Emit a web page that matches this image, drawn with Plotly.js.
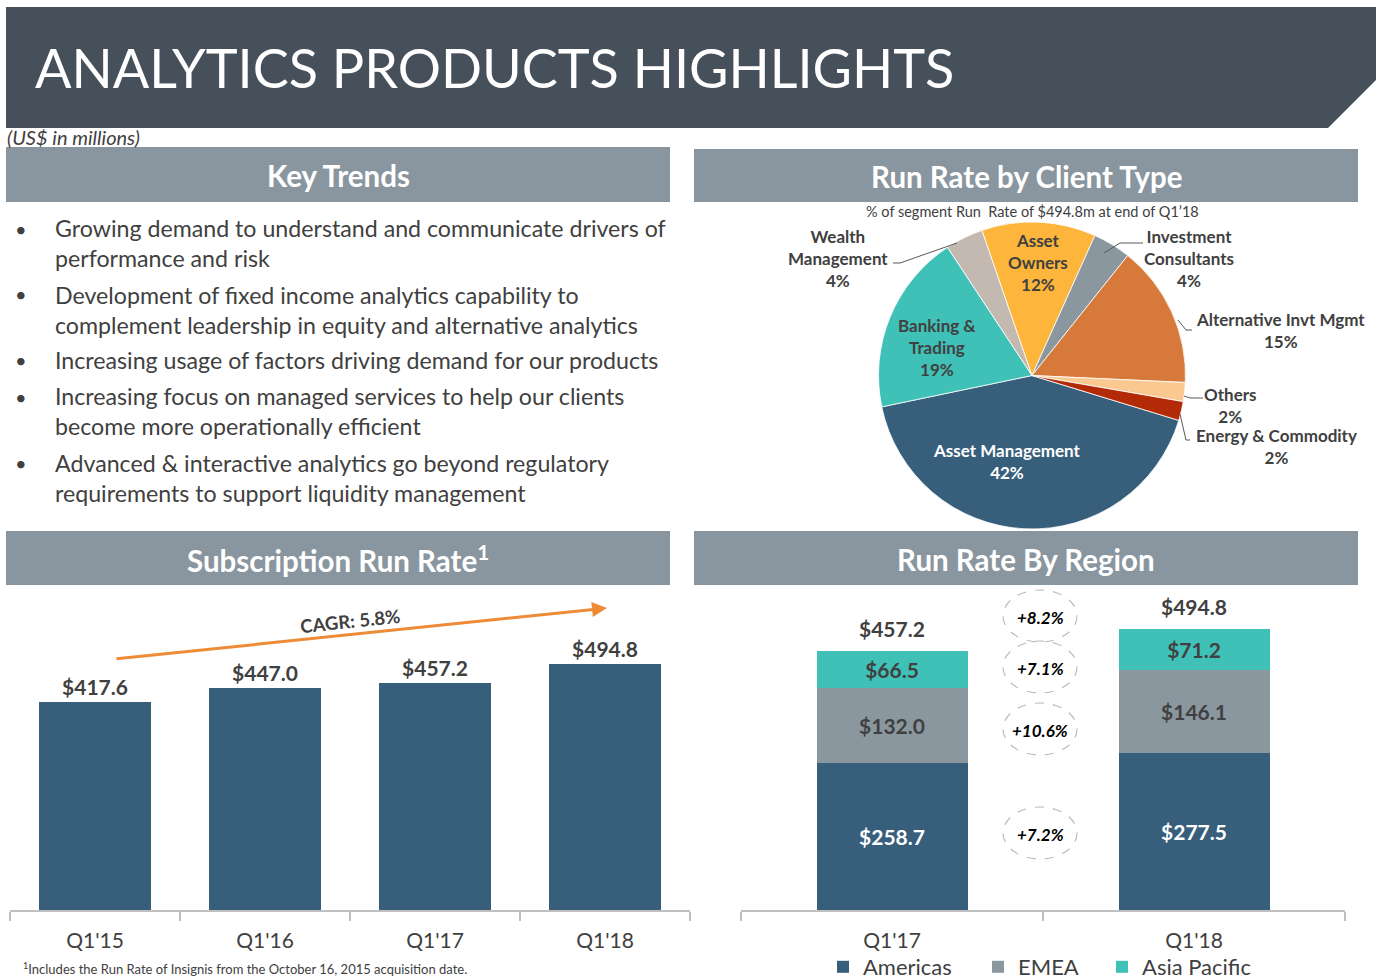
<!DOCTYPE html>
<html><head><meta charset="utf-8">
<script src="https://cdn.plot.ly/plotly-3.0.1.min.js"></script>
<style>html,body{margin:0;padding:0;background:#fff;overflow:hidden}#chart{width:1379px;height:976px}</style>
</head><body><div id="chart"></div>
<script>
// ---------- data ----------
const trendPeriods = ["Q1'15", "Q1'16", "Q1'17", "Q1'18"];
const runRate = [417.6, 447.0, 457.2, 494.8];
const cagrLabel = "CAGR: 5.8%";

const clientTypes = ["Asset Management", "Banking & Trading", "Wealth Management", "Asset Owners",
  "Investment Consultants", "Alternative Invt Mgmt", "Others", "Energy & Commodity"];
const clientLabels = ["Asset Management", "Banking &<br>Trading", "Wealth<br>Management", "Asset<br>Owners",
  "Investment<br>Consultants", "Alternative Invt Mgmt", "Others", "Energy & Commodity"];
const clientShare = [42, 19, 4, 12, 4, 15, 2, 2];
const clientColors = ["#375e7b", "#40c1b8", "#c3b9b1", "#fdb53c", "#8b979f", "#d6793a", "#fac890", "#b22b06"];

const regionPeriods = ["Q1'17", "Q1'18"];
const americas = [258.7, 277.5];
const emea = [132.0, 146.1];
const asiaPacific = [66.5, 71.2];
const growthLabels = ["+8.2%", "+7.1%", "+10.6%", "+7.2%"]; // total, Asia Pacific, EMEA, Americas

const bullets = [
  "Growing demand to understand and communicate drivers of<br>performance and risk",
  "Development of fixed income analytics capability to<br>complement leadership in equity and alternative analytics",
  "Increasing usage of factors driving demand for our products",
  "Increasing focus on managed services to help our clients<br>become more operationally efficient",
  "Advanced & interactive analytics go beyond regulatory<br>requirements to support liquidity management"
];

// ---------- helpers ----------
const W = 1379, H = 976;
const px = x => x / W, py = y => 1 - y / H;
const FONT = 'Lato, "Open Sans", sans-serif';
const DARK = '#404040';
const BLUE = '#375e7b', GRAY = '#8b979f', TEAL = '#40c1b8';
const P = o => Object.assign({xref: 'paper', yref: 'paper', showarrow: false}, o);

// ---------- traces ----------
const traces = [
  {
    type: 'bar', x: trendPeriods, y: runRate, xaxis: 'x', yaxis: 'y',
    width: 0.66, marker: {color: BLUE}, showlegend: false,
    texttemplate: '$%{y:.1f}', textposition: 'outside', cliponaxis: false,
    textfont: {size: 21, color: DARK, family: FONT, weight: 700}, hoverinfo: 'skip'
  },
  {
    type: 'pie', labels: clientTypes, values: clientShare, sort: false,
    direction: 'clockwise', rotation: 107, textinfo: 'none', hoverinfo: 'skip',
    marker: {colors: clientColors, line: {color: '#ffffff', width: 0.8}},
    domain: {x: [px(878), px(1186)], y: [py(529), py(222)]}, showlegend: false
  },
  {
    type: 'bar', name: 'Americas', x: regionPeriods, y: americas, xaxis: 'x2', yaxis: 'y2', legend: 'legend',
    width: 0.5, marker: {color: BLUE}, texttemplate: '$%{y:.1f}', textposition: 'inside',
    insidetextanchor: 'middle', textangle: 0,
    textfont: {size: 21, color: '#ffffff', family: FONT, weight: 700}, hoverinfo: 'skip'
  },
  {
    type: 'bar', name: 'EMEA', x: regionPeriods, y: emea, xaxis: 'x2', yaxis: 'y2', legend: 'legend2',
    width: 0.5, marker: {color: GRAY}, texttemplate: '$%{y:.1f}', textposition: 'inside',
    insidetextanchor: 'middle', textangle: 0,
    textfont: {size: 21, color: DARK, family: FONT, weight: 700}, hoverinfo: 'skip'
  },
  {
    type: 'bar', name: 'Asia Pacific', x: regionPeriods, y: asiaPacific, xaxis: 'x2', yaxis: 'y2', legend: 'legend3',
    width: 0.5, marker: {color: TEAL}, texttemplate: '$%{y:.1f}', textposition: 'inside',
    insidetextanchor: 'middle', textangle: 0,
    textfont: {size: 21, color: DARK, family: FONT, weight: 700}, hoverinfo: 'skip'
  }
];

// ---------- shapes ----------
const shapes = [];
shapes.push({type: 'path', xref: 'paper', yref: 'paper', fillcolor: '#46505a', line: {width: 0},
  path: `M${px(6)},${py(7)} L${px(1376)},${py(7)} L${px(1376)},${py(80)} L${px(1328)},${py(128)} L${px(6)},${py(128)} Z`});
const sections = [
  {x0: 6, x1: 670, y0: 147, y1: 202, text: 'Key Trends'},
  {x0: 694, x1: 1358, y0: 149, y1: 202, text: 'Run Rate by Client Type'},
  {x0: 6, x1: 670, y0: 531, y1: 585, text: 'Subscription Run Rate<sup>1</sup>'},
  {x0: 694, x1: 1358, y0: 531, y1: 585, text: 'Run Rate By Region'}
];
sections.forEach(s => shapes.push({type: 'rect', xref: 'paper', yref: 'paper',
  x0: px(s.x0), x1: px(s.x1), y0: py(s.y1), y1: py(s.y0), fillcolor: '#8a969f', line: {width: 0}}));

const circleCenters = [616, 667, 729, 833];
circleCenters.forEach(c => shapes.push({type: 'circle', xref: 'paper', yref: 'paper',
  x0: px(1003), x1: px(1077), y0: py(c + 26), y1: py(c - 26),
  line: {color: '#b7bbbf', width: 1.1, dash: 'dash'}, fillcolor: 'rgba(0,0,0,0)'}));

const leaders = [
  [[893, 263], [900, 263], [957, 243]],
  [[1143, 243], [1120, 243], [1104, 253]],
  [[1192, 330], [1186, 330], [1178, 320]],
  [[1203, 398], [1190, 398], [1184, 396]],
  [[1190, 440], [1186, 440], [1180, 414]]
];
leaders.forEach(pts => shapes.push({type: 'path', xref: 'paper', yref: 'paper',
  path: 'M' + pts.map(p => `${px(p[0])},${py(p[1])}`).join(' L'), line: {color: '#595959', width: 1}}));

// ---------- annotations ----------
const ann = [];
ann.push(P({text: 'ANALYTICS PRODUCTS HIGHLIGHTS', x: px(33), y: py(67), xanchor: 'left', yanchor: 'middle',
  font: {size: 54, color: '#ffffff', family: FONT, weight: 400}}));
ann.push(P({text: '<i>(US$ in millions)</i>', x: px(5), y: py(137), xanchor: 'left', yanchor: 'middle',
  font: {size: 20, color: DARK, family: FONT}}));
sections.forEach(s => ann.push(P({text: s.text, x: px((s.x0 + s.x1) / 2), y: py((s.y0 + s.y1) / 2 + 1),
  xanchor: 'center', yanchor: 'middle', font: {size: 29.5, color: '#ffffff', family: FONT, weight: 700}})));

const bulletCenters = [243, 309.5, 360, 411.5, 478];
const bulletFirst = [229, 294, 360, 397, 463];
bullets.forEach((b, i) => {
  ann.push(P({text: '•', x: px(21), y: py(bulletFirst[i]), xanchor: 'center', yanchor: 'middle',
    font: {size: 20, color: DARK, family: FONT}}));
  ann.push(P({text: b, x: px(53), y: py(bulletCenters[i]), xanchor: 'left', yanchor: 'middle', align: 'left',
    font: {size: 23.2, color: DARK, family: FONT}}));
});

ann.push(P({text: '% of segment Run  Rate of $494.8m at end of Q1\u201918', x: px(1032), y: py(212),
  xanchor: 'center', yanchor: 'middle', font: {size: 14.5, color: DARK, family: FONT}}));
const pieLabelPos = [[1007, 461], [937, 347], [838, 258], [1038, 262], [1189, 258], [1280, 330], [1230, 406], [1276, 447]];
clientLabels.forEach((l, i) => ann.push(P({text: l + '<br>' + clientShare[i] + '%',
  x: px(pieLabelPos[i][0]), y: py(pieLabelPos[i][1]), xanchor: 'center', yanchor: 'middle',
  font: {size: 17, color: i === 0 ? '#ffffff' : DARK, family: FONT, weight: 700}})));

ann.push({text: '', x: px(607), y: py(608), ax: -492, ay: 51, xref: 'paper', yref: 'paper',
  showarrow: true, arrowhead: 2, arrowsize: 1, arrowwidth: 3, arrowcolor: '#ed8b37', standoff: 0});
ann.push(P({text: cagrLabel, x: px(350), y: py(621), xanchor: 'center', yanchor: 'middle', textangle: -6,
  font: {size: 18.5, color: DARK, family: FONT, weight: 700}}));

regionPeriods.forEach((p, i) => ann.push({text: '$' + (americas[i] + emea[i] + asiaPacific[i]).toFixed(1),
  x: p, y: americas[i] + emea[i] + asiaPacific[i], xref: 'x2', yref: 'y2', yanchor: 'bottom', yshift: 8,
  showarrow: false, font: {size: 21, color: DARK, family: FONT, weight: 700}}));

growthLabels.forEach((g, i) => ann.push(P({text: '<b><i>' + g + '</i></b>', x: px(1040), y: py(circleCenters[i] + 1),
  xanchor: 'center', yanchor: 'middle', font: {size: 17, color: '#000000', family: FONT}})));

ann.push(P({text: '<sup>1</sup>Includes the Run Rate of Insignis from the October 16, 2015 acquisition date.',
  x: px(21), y: py(968), xanchor: 'left', yanchor: 'middle', font: {size: 13, color: DARK, family: FONT}}));

// ---------- layout ----------
const axisX = {showline: true, linecolor: '#bfbfbf', linewidth: 1.5, ticks: 'outside', ticklen: 9,
  tickcolor: '#bfbfbf', tickwidth: 1.5, tickson: 'boundaries', showgrid: false, zeroline: false,
  tickfont: {size: 21, color: DARK, family: FONT}, fixedrange: true, type: 'category', ticklabelstandoff: 11};

const legendBase = {orientation: 'h', y: py(946), xanchor: 'left', yanchor: 'top',
  font: {size: 22, color: DARK, family: FONT}, bgcolor: 'rgba(0,0,0,0)'};

const layout = {
  width: W, height: H, margin: {l: 0, r: 0, t: 0, b: 0, autoexpand: false},
  paper_bgcolor: '#ffffff', plot_bgcolor: 'rgba(0,0,0,0)',
  font: {family: FONT, color: DARK},
  barmode: 'stack',
  xaxis: Object.assign({}, axisX, {domain: [px(10), px(690)], anchor: 'y', range: [-0.5, 3.5]}),
  yaxis: {domain: [py(910), py(600)], range: [0, 623.7], visible: false, fixedrange: true},
  xaxis2: Object.assign({}, axisX, {domain: [px(741), px(1345)], anchor: 'y2', range: [-0.5, 1.5]}),
  yaxis2: {domain: [py(910), py(590)], range: [0, 564], visible: false, fixedrange: true},
  legend: Object.assign({}, legendBase, {x: px(823)}),
  legend2: Object.assign({}, legendBase, {x: px(978)}),
  legend3: Object.assign({}, legendBase, {x: px(1102)}),
  shapes: shapes, annotations: ann
};

Plotly.newPlot('chart', traces, layout, {displayModeBar: false, staticPlot: true});
</script>
</body></html>
